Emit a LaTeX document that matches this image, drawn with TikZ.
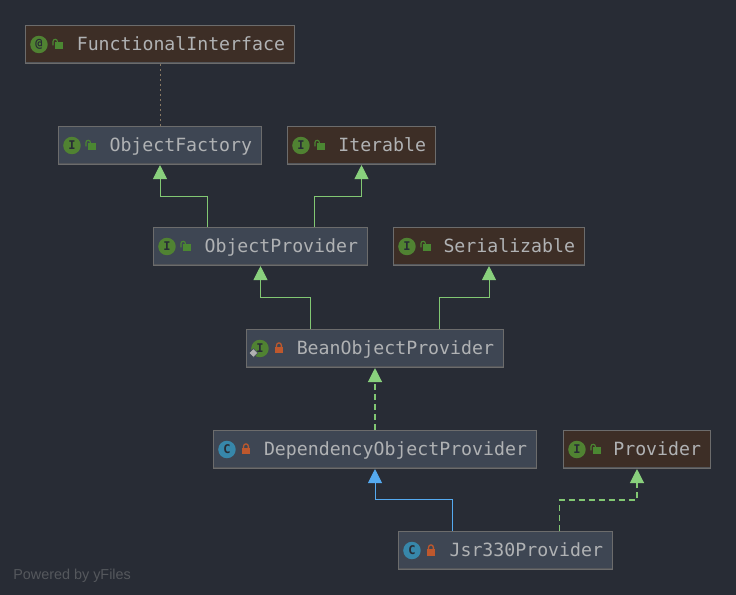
\documentclass[tikz,border=0pt]{standalone}
\usepackage{fontspec}
\setmainfont{Liberation Sans}
\setmonofont{DejaVu Sans Mono}
\usetikzlibrary{arrows.meta, shapes.geometric}
\definecolor{bgdark}{RGB}{40, 44, 53}
\definecolor{boxline}{RGB}{108, 108, 108}
\definecolor{boxband}{RGB}{84, 86, 90}
\definecolor{shadeblue}{RGB}{62, 70, 83}
\definecolor{shadebrown}{RGB}{61, 46, 38}
\definecolor{labelgrey}{RGB}{176, 178, 180}
\definecolor{extgreen}{RGB}{130, 200, 115}
\definecolor{tipgreen}{RGB}{137, 208, 125}
\definecolor{extblue}{RGB}{85, 170, 240}
\definecolor{dotbrown}{RGB}{135, 120, 100}
\definecolor{icongreen}{RGB}{80, 130, 50}
\definecolor{iconblue}{RGB}{55, 135, 170}
\definecolor{lockgreen}{RGB}{75, 135, 50}
\definecolor{lockred}{RGB}{190, 88, 45}
\definecolor{footgrey}{RGB}{85, 88, 93}
\newcommand{\px}{0.75pt}

\begin{document}
\begin{tikzpicture}[
  x=0.75pt, y=-0.75pt,
  bbox/.style={draw=boxline, line width=0.8pt, fill=shadeblue, text=labelgrey,
               font=\ttfamily\fontsize{13.65}{16}\selectfont, align=right,
               text width=(#1-20)*\px, inner xsep=9.5*\px, inner ysep=0pt,
               minimum height=38*\px, text height=10.75pt, text depth=2.25pt},
  rbox/.style={bbox=#1, fill=shadebrown},
  iicon/.style={circle, fill=icongreen, text=bgdark, minimum size=17.5*\px, inner sep=0pt,
                font=\ttfamily\bfseries\fontsize{9}{9}\selectfont},
  cicon/.style={iicon, fill=iconblue},
  arr/.style={-{Triangle[length=10.5pt, width=10.5pt, color=tipgreen]},
              line width=0.75pt, extgreen},
  dash6/.style={dash pattern=on 6*\px off 4*\px, line width=0.9pt},
  openlock/.pic={
    \fill[lockgreen] (-3,-2) rectangle (5,5);
    \draw[lockgreen, line width=0.85pt] (-5,1) -- (-5,-3) arc (180:360:2.2) -- (-0.6,-2);
  },
  shutlock/.pic={
    \fill[lockred] (-4,-1.5) rectangle (4,5);
    \draw[lockred, line width=0.95pt] (-2.4,-1.5) -- (-2.4,-3.2) arc (180:360:2.4) -- (2.4,-1.5);
  }
]
  \fill[bgdark] (0,0) rectangle (736,595);
  \useasboundingbox (0,0) rectangle (736,595);

  \node[rbox=270] (fint) at (160,44.5)   {FunctionalInterface};
  \node[bbox=204] (ofac) at (160,145.5)  {ObjectFactory};
  \node[rbox=149] (iter) at (361.5,145.5){Iterable};
  \node[bbox=215] (opro) at (260.5,246.5){ObjectProvider};
  \node[rbox=192] (seri) at (489,246.5)  {Serializable};
  \node[bbox=258] (bean) at (375,348.5)  {BeanObjectProvider};
  \node[bbox=324] (depo) at (375,449.5)  {DependencyObjectProvider};
  \node[rbox=148] (prov) at (637,449.5)  {Provider};
  \node[bbox=215] (jsrp) at (505.5,550.5){Jsr330Provider};

  % icons and locks
  \foreach \n/\k/\t in {ofac/iicon/I, iter/iicon/I, opro/iicon/I, seri/iicon/I,
                        bean/iicon/I, prov/iicon/I, fint/iicon/@}
    \node[\k] (\n icon) at ([xshift=14*\px]\n.west) {\t};
  \foreach \n in {depo, jsrp}
    \node[cicon] (\n icon) at ([xshift=14*\px]\n.west) {C};
  \foreach \n in {fint, ofac, iter, opro, seri, prov}
    \pic at ([xshift=33*\px]\n.west) {openlock};
  \foreach \n in {bean, depo, jsrp}
    \pic at ([xshift=33*\px]\n.west) {shutlock};
  \node[diamond, fill=gray!60!white, draw=shadeblue, minimum size=9*\px, inner sep=0pt] (beanmark)
    at ([xshift=7.5*\px,yshift=-4.5*\px]bean.west) {};

  % lower edge of every box
  \foreach \n in {fint, ofac, iter, opro, seri, bean, depo, prov, jsrp}
    \draw[boxband, line width=1.2pt] ([xshift=1*\px,yshift=1.5*\px]\n.south west) -- ([xshift=-1*\px,yshift=1.5*\px]\n.south east);

  \draw[dotbrown, dash pattern=on 2*\px off 3*\px, line width=0.7pt] (fint) -- (ofac);
  \draw[arr] ([xshift=-53*\px]opro.north) -- ++(0,-30) -| (ofac.south);
  \draw[arr] ([xshift=53.5*\px]opro.north) -- ++(0,-30) -| (iter.south);
  \draw[arr] ([xshift=-65*\px]bean.north) -- ++(0,-31) -| (opro.south);
  \draw[arr] ([xshift=64*\px]bean.north) -- ++(0,-31) -| (seri.south);
  \draw[arr, dash6] (depo.north) -- (bean.south);
  \draw[arr, extblue, -{Triangle[length=10.5pt, width=10.5pt, color=extblue]}]
    ([xshift=-53*\px]jsrp.north) -- ++(0,-31) -| (depo.south);
  \draw[arr, dash6] ([xshift=54*\px]jsrp.north) -- ++(0,-31) -| (prov.south);

  \node[anchor=west, text=footgrey, font=\fontsize{10.8}{12}\selectfont, inner sep=0pt] (yfil)
    at (13,575.5) {Powered by yFiles};
\end{tikzpicture}
\end{document}
